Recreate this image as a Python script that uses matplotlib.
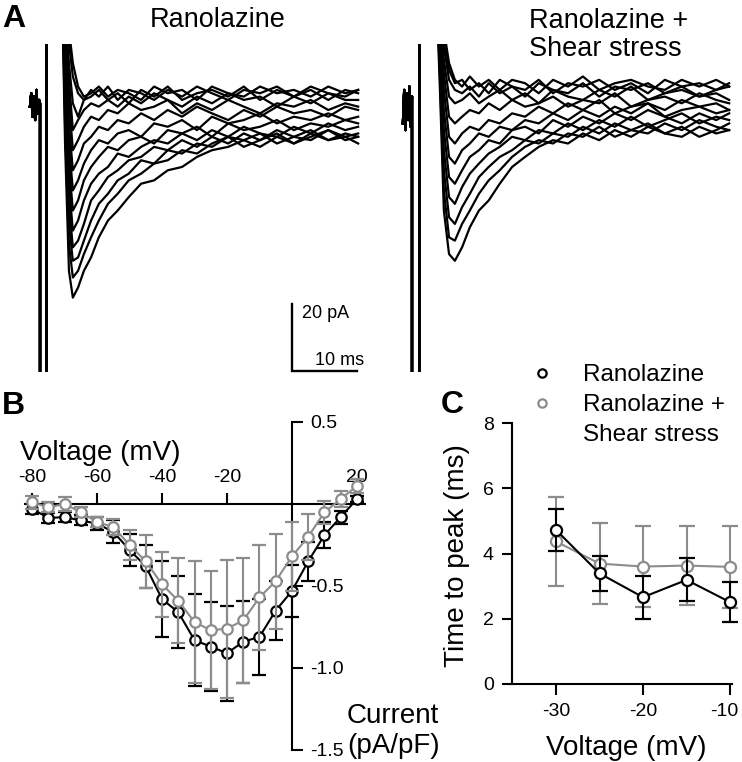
import matplotlib
matplotlib.use("Agg")
import matplotlib.pyplot as plt
from matplotlib.transforms import ScaledTranslation

plt.rcParams['font.family'] = ['Liberation Sans', 'DejaVu Sans']
plt.rcParams['axes.unicode_minus'] = False

W, H = 742, 762
GRAY = '#8c8c8c'

# ---------------- Panel A: current traces (time in ms, current in pA) ----------------
t_trace = [5.2, 5.7, 6.3, 6.9, 7.7, 8.6, 9.7, 10.9, 12.3, 13.8, 15.5, 17.4, 19.4,
           21.5, 23.7, 26.0, 28.3, 30.8, 33.2, 35.7, 38.3, 40.9, 43.5, 46.2, 48.8, 50.8]

# pre-pulse part (baseline + clipped capacitive transients)
pre_t_ran = [0.3, 0.5, 0.7, 0.9, 1.1, 1.3, 1.5, 1.7, 1.85, 1.85, 2.85, 2.85]
pre_i_ran = [1, 5, -2, 4, -3, 6, -1, 3, 2, -150, -150, 60]
pre_t_shear = [0.6, 0.8, 1.0, 1.2, 1.4, 1.6, 1.8, 2.0, 2.0, 3.1, 3.1]
pre_i_shear = [-4, 6, -6, 5, -3, 7, -5, 4, -150, -150, 60]

traces_ran = [
    [40, -10, -48, -56, -53, -48, -44, -38, -33, -30, -26, -22, -21, -18, -17, -14, -12, -11, -9, -11, -8, -10, -7, -9, -8, -10],
    [40, -4, -40, -50, -48, -43, -38, -33, -28, -25, -21, -19, -16, -15, -12, -13, -10, -8, -11, -9, -7, -10, -8, -6, -9, -8],
    [40, 2, -34, -45, -44, -39, -33, -28, -25, -21, -19, -15, -16, -12, -13, -10, -11, -8, -9, -7, -10, -8, -6, -9, -7, -8],
    [40, 6, -28, -41, -39, -34, -27, -24, -20, -18, -15, -14, -11, -12, -9, -11, -8, -10, -7, -9, -6, -8, -9, -6, -8, -7],
    [40, 10, -22, -36, -33, -27, -22, -19, -17, -13, -14, -11, -9, -10, -7, -9, -6, -8, -5, -7, -8, -5, -7, -4, -6, -5],
    [40, 14, -16, -30, -27, -21, -17, -14, -11, -12, -9, -8, -10, -6, -7, -5, -8, -4, -6, -5, -3, -6, -4, -5, -3, -4],
    [40, 17, -10, -24, -21, -16, -12, -9, -10, -7, -6, -8, -4, -5, -3, -6, -2, -4, -3, -1, -4, -2, -3, -1, -3, -2],
    [40, 20, -4, -18, -15, -10, -8, -5, -6, -3, -4, -1, -3, 0, -2, 1, -1, -3, 0, -2, 1, -1, 0, -2, 1, 0],
    [40, 23, 3, -12, -9, -5, -2, -3, 0, -1, 2, 0, 1, 3, -1, 2, 0, 3, 1, -1, 2, 1, 3, 0, 2, 1],
    [40, 26, 9, -6, -3, 0, 2, 1, 3, 1, 4, 2, 5, 3, 1, 4, 2, 5, 3, 4, 1, 4, 2, 5, 3, 3],
    [40, 29, 14, 2, -2, 3, 4, 6, 3, 5, 2, 6, 4, 7, 3, 5, 6, 4, 7, 3, 6, 4, 7, 5, 4, 6],
    [40, 32, 20, 10, 5, 3, 6, 4, 7, 3, 6, 5, 3, 6, 4, 7, 5, 3, 6, 5, 7, 4, 6, 3, 6, 5],
    [40, 34, 24, 14, 7, 4, 5, 7, 4, 6, 5, 3, 7, 5, 6, 3, 7, 5, 4, 7, 5, 6, 4, 7, 5, 6],
]

traces_shear = [
    [40, 38, 6, -30, -43, -45, -41, -35, -30, -27, -22, -17, -14, -11, -9, -10, -7, -9, -6, -8, -5, -7, -8, -5, -7, -6],
    [40, 38, 10, -24, -38, -39, -34, -30, -25, -21, -18, -14, -11, -9, -10, -7, -8, -5, -8, -6, -4, -7, -5, -8, -6, -4],
    [40, 38, 14, -18, -32, -34, -29, -25, -20, -17, -14, -12, -9, -10, -7, -8, -5, -7, -4, -6, -7, -4, -6, -3, -5, -6],
    [40, 38, 17, -12, -26, -28, -23, -19, -16, -13, -11, -8, -9, -6, -7, -4, -6, -3, -5, -2, -5, -3, -1, -4, -2, -3],
    [40, 38, 20, -6, -20, -22, -18, -14, -12, -9, -10, -6, -5, -7, -3, -5, -2, -4, -1, -3, 0, -2, -4, -1, -3, -1],
    [40, 38, 23, 0, -14, -16, -12, -10, -7, -8, -5, -6, -3, -4, -1, -3, 0, -2, 1, -1, 2, -2, 0, 1, -1, 0],
    [40, 38, 26, 6, -8, -10, -7, -5, -6, -3, -4, -1, -2, 1, -1, 2, 0, 3, -1, 1, 2, 0, 3, 1, 2, 0],
    [40, 38, 28, 11, -2, -4, -2, 0, -1, 2, 0, 3, 1, 2, 4, 1, 3, 2, 5, 1, 3, 4, 2, 5, 3, 2],
    [40, 38, 30, 15, 4, 2, 3, 5, 2, 4, 6, 3, 5, 2, 6, 4, 3, 6, 4, 7, 3, 5, 6, 4, 5, 3],
    [40, 38, 32, 19, 9, 6, 5, 7, 4, 8, 5, 7, 4, 8, 6, 5, 8, 4, 7, 6, 8, 5, 7, 4, 6, 7],
    [40, 38, 33, 22, 12, 8, 9, 6, 8, 5, 9, 7, 6, 9, 5, 8, 7, 9, 6, 8, 5, 9, 7, 8, 6, 8],
    [40, 38, 34, 24, 14, 9, 7, 10, 7, 9, 6, 9, 8, 5, 9, 7, 10, 6, 8, 9, 7, 6, 9, 7, 9, 7],
]

# ---------------- Panel B: I-V relationship ----------------
volt_iv = [-80, -75, -70, -65, -60, -55, -50, -45, -40, -35, -30,
           -25, -20, -15, -10, -5, 0, 5, 10, 15, 20]
iv_ran = [-0.03, -0.085, -0.08, -0.10, -0.12, -0.17, -0.28, -0.38, -0.58, -0.66, -0.83,
          -0.87, -0.91, -0.84, -0.81, -0.65, -0.53, -0.35, -0.19, -0.08, 0.03]
iv_ran_err = [0.03, 0.03, 0.03, 0.03, 0.04, 0.07, 0.10, 0.13, 0.23, 0.22, 0.28,
              0.27, 0.29, 0.25, 0.23, 0.18, 0.16, 0.12, 0.08, 0.04, 0.02]
iv_shear = [0.01, -0.02, 0.0, -0.05, -0.11, -0.14, -0.25, -0.35, -0.49, -0.59, -0.72,
            -0.77, -0.76, -0.71, -0.57, -0.47, -0.32, -0.20, -0.05, 0.03, 0.11]
iv_shear_err = [0.04, 0.03, 0.045, 0.03, 0.03, 0.05, 0.09, 0.16, 0.20, 0.26, 0.37,
                0.36, 0.42, 0.38, 0.32, 0.29, 0.21, 0.14, 0.07, 0.05, 0.04]

# ---------------- Panel C: time to peak ----------------
volt_ttp = [-30, -25, -20, -15, -10]
ttp_ran = [4.72, 3.39, 2.66, 3.19, 2.51]
ttp_ran_err = [0.64, 0.54, 0.66, 0.66, 0.62]
ttp_shear = [4.37, 3.69, 3.60, 3.63, 3.59]
ttp_shear_err = [1.37, 1.25, 1.25, 1.22, 1.26]


def rect(x0, y0, x1, y1):
    # pixel box (top-left origin) -> figure fraction
    return [x0 / W, 1 - y1 / H, (x1 - x0) / W, (y1 - y0) / H]


fig = plt.figure(figsize=(W / 100, H / 100), dpi=100)


def ftext(x, y, s, **kw):
    fig.text(x / W, 1 - y / H, s, **kw)


def draw_traces(ax, pre_t, pre_i, traces):
    for tr in traces:
        ax.plot(pre_t + t_trace, pre_i + tr, color='black', lw=1.6)
    ax.set_xlim(0, 51.85)
    ax.set_ylim(-78.2, 19.7)
    ax.axis('off')


# Panel A
ax_a1 = fig.add_axes(rect(28, 44, 365, 372))
draw_traces(ax_a1, pre_t_ran, pre_i_ran, traces_ran)
ax_a1.plot([40.6, 40.6, 50.6], [-58, -78, -78], color='black', lw=1.7,
           clip_on=False, solid_joinstyle='miter')

ax_a2 = fig.add_axes(rect(399, 44, 736, 372))
draw_traces(ax_a2, pre_t_shear, pre_i_shear, traces_shear)

ftext(2, 27, 'A', fontsize=23, fontweight='bold', va='baseline')
ftext(218, 27, 'Ranolazine', fontsize=19.5, ha='center', va='baseline')
ftext(529, 28, 'Ranolazine +', fontsize=19.5, va='baseline')
ftext(529, 56, 'Shear stress', fontsize=19.5, va='baseline')
ftext(302, 318, '20 pA', fontsize=13, va='baseline')
ftext(315, 365, '10 ms', fontsize=13, va='baseline')

# Panel B
ax_b = fig.add_axes(rect(25, 422, 365, 750))
ax_b.errorbar(volt_iv, iv_ran, yerr=iv_ran_err, fmt='-o', color='black', mfc='white',
              mec='black', ms=7.5, mew=1.6, lw=1.5, elinewidth=1.5, capsize=5,
              capthick=1.5, clip_on=False, zorder=3)
ax_b.errorbar(volt_iv, iv_shear, yerr=iv_shear_err, fmt='-o', color=GRAY, mfc='white',
              mec=GRAY, ms=7.5, mew=1.6, lw=1.5, elinewidth=1.5, capsize=5,
              capthick=1.5, clip_on=False, zorder=4)
ax_b.set_xlim(-82.2, 22.5)
ax_b.set_ylim(-1.5, 0.5)
for s in ['left', 'bottom']:
    ax_b.spines[s].set_visible(False)
ax_b.spines['right'].set_position(('data', 0))
ax_b.spines['top'].set_position(('data', 0))
for s in ['right', 'top']:
    ax_b.spines[s].set_linewidth(1.5)
ax_b.yaxis.tick_right()
ax_b.xaxis.tick_top()
ax_b.set_xticks([-80, -60, -40, -20, 20])
ax_b.set_xticklabels(['-80', '-60', '-40', '-20', '20'])
ax_b.set_yticks([-1.5, -1.0, -0.5, 0.5])
ax_b.set_yticklabels(['-1.5', '-1.0', '-0.5', '0.5'])
ax_b.tick_params(direction='out', length=8, width=1.5, labelsize=14, pad=5)
ax_b.patch.set_visible(False)

ftext(2, 414, 'B', fontsize=23, fontweight='bold', va='baseline')
ftext(20, 460, 'Voltage (mV)', fontsize=20, va='baseline')
ftext(347, 723, 'Current', fontsize=20, va='baseline')
ftext(347, 753, '(pA/pF)', fontsize=20, va='baseline')

# Panel C
ax_c = fig.add_axes(rect(512, 423, 732, 684))
ax_c.errorbar(volt_ttp, ttp_shear, yerr=ttp_shear_err, fmt='-o', color=GRAY, mfc='white',
              mec=GRAY, ms=8, mew=1.6, lw=1.5, elinewidth=1.5, capsize=5.5,
              capthick=1.5, clip_on=False, zorder=3)
ax_c.errorbar(volt_ttp, ttp_ran, yerr=ttp_ran_err, fmt='-o', color='black', mfc='white',
              mec='black', ms=8, mew=1.6, lw=1.5, elinewidth=1.5, capsize=5.5,
              capthick=1.5, clip_on=False, zorder=4)
ax_c.set_xlim(-35.06, -9.77)
ax_c.set_ylim(0, 8)
ax_c.spines['top'].set_visible(False)
ax_c.spines['right'].set_visible(False)
for s in ['left', 'bottom']:
    ax_c.spines[s].set_linewidth(1.5)
ax_c.set_xticks([-30, -20, -10])
ax_c.set_xticklabels(['-30', '-20', '-10'])
ax_c.set_yticks([0, 2, 4, 6, 8])
ax_c.tick_params(axis='x', direction='out', length=8, width=1.5, labelsize=14, pad=6)
ax_c.tick_params(axis='y', direction='out', length=7, width=1.5, labelsize=14, pad=6)
ax_c.patch.set_visible(False)
# keep the last tick label inside the figure edge
last = ax_c.get_xticklabels()[-1]
last.set_transform(last.get_transform() + ScaledTranslation(-6 / 100, 0, fig.dpi_scale_trans))

ftext(441, 413, 'C', fontsize=23, fontweight='bold', va='baseline')
ftext(457, 556, 'Time to peak (ms)', fontsize=20, rotation=90, ha='center', va='center')
ftext(626, 755, 'Voltage (mV)', fontsize=20, ha='center', va='baseline')

# legend (drawn by hand so the marker lines up with the first text line)
ax_c.plot([542 / W], [1 - 373 / H], 'o', transform=fig.transFigure, clip_on=False,
          ms=6, mfc='white', mec='black', mew=1.6)
ax_c.plot([542 / W], [1 - 403 / H], 'o', transform=fig.transFigure, clip_on=False,
          ms=6, mfc='white', mec=GRAY, mew=1.6)
ftext(583, 381, 'Ranolazine', fontsize=17.5, va='baseline')
ftext(583, 411, 'Ranolazine +', fontsize=17.5, va='baseline')
ftext(583, 441, 'Shear stress', fontsize=17.5, va='baseline')

fig.savefig('out.png', dpi=100)
